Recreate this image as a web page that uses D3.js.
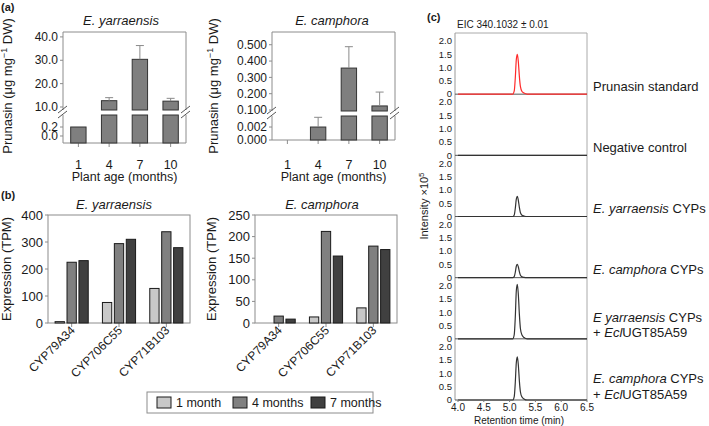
<!DOCTYPE html>
<html><head><meta charset="utf-8">
<script src="https://cdn.jsdelivr.net/npm/d3@7"></script>
<style>
body{margin:0;background:#fff;}
svg{font-family:"Liberation Sans",Arial,sans-serif;}
</style></head><body><svg id="c" width="709" height="426"></svg>
<script>
// ---------- DATA ----------
const ageMonths = ["1", "4", "7", "10"];
const yarraPrunasin = [0.2, 12.7, 30.4, 12.5];
const yarraPrunasinSD = [0, 1.3, 5.9, 1.2];
const camphPrunasin = [0, 0.002, 0.357, 0.125];
const camphPrunasinSD = [0, 0.0015, 0.131, 0.085];
const yarraUpperTicks = [10, 20, 30, 40];
const yarraLowerTicks = [0, 0.2];
const camphUpperTicks = [0.1, 0.2, 0.3, 0.4, 0.5];
const camphLowerTicks = [0, 0.002];

const genes = ["CYP79A34", "CYP706C55", "CYP71B103"];
const ageGroups = ["1 month", "4 months", "7 months"];
const yarraTPM1 = [5, 76, 128];
const yarraTPM4 = [225, 294, 338];
const yarraTPM7 = [231, 310, 279];
const camphTPM1 = [0, 14, 35];
const camphTPM4 = [16, 212, 178];
const camphTPM7 = [9, 155, 170];
const yarraTPMTicks = [0, 100, 200, 300, 400];
const camphTPMTicks = [0, 50, 100, 150, 200, 250];

const rtTimes = [4.0, 5.06, 5.09, 5.11, 5.13, 5.15, 5.17, 5.19, 5.21, 5.24, 5.28, 5.34, 6.5];
const traceStandard = [0, 0, 0.12, 0.6, 1.3, 1.5, 1.2, 0.65, 0.28, 0.1, 0.04, 0, 0];
const traceNegative = [0, 0, 0, 0, 0, 0, 0, 0, 0, 0, 0, 0, 0];
const traceYarra = [0, 0, 0.06, 0.3, 0.65, 0.76, 0.6, 0.33, 0.14, 0.05, 0.02, 0, 0];
const traceCamph = [0, 0, 0.04, 0.2, 0.43, 0.5, 0.4, 0.22, 0.09, 0.03, 0.01, 0, 0];
const traceYarraUGT = [0, 0, 0.16, 0.8, 1.8, 2.05, 1.65, 0.9, 0.38, 0.14, 0.05, 0, 0];
const traceCamphUGT = [0, 0, 0.13, 0.65, 1.4, 1.62, 1.3, 0.7, 0.3, 0.11, 0.04, 0, 0];
const rtTicks = [4.0, 4.5, 5.0, 5.5, 6.0, 6.5];
const intensityTicks = [0, 0.5, 1.0, 1.5, 2.0];

// ---------- DRAW ----------
const svg = d3.select("#c");
const frameCol = "#8c8c8c";
const txtCol = "#1a1a1a";

function panelLabel(t, x, y) {
  svg.append("text").attr("x", x).attr("y", y).attr("font-size", 11).attr("font-weight", "bold")
    .attr("fill", txtCol).text(t);
}
panelLabel("(a)", 1, 11);
panelLabel("(b)", 1, 199);
panelLabel("(c)", 427, 21);

function italicTitle(t, x, y) {
  svg.append("text").attr("x", x).attr("y", y).attr("text-anchor", "middle").attr("font-size", 13)
    .attr("font-style", "italic").attr("fill", txtCol).text(t);
}

function prunasinYTitle(x, y) {
  const t = svg.append("text").attr("transform", `translate(${x},${y}) rotate(-90)`)
    .attr("text-anchor", "middle").attr("font-size", 13).attr("fill", txtCol);
  t.append("tspan").text("Prunasin (\u03bcg mg");
  t.append("tspan").attr("dy", -5).attr("font-size", 9).text("\u22121");
  t.append("tspan").attr("dy", 5).text(" DW)");
}

// broken axis panel (a)
function brokenPanel(o) {
  const g = svg.append("g");
  const x = d3.scaleBand().domain(ageMonths).range([o.x0, o.x1]).paddingInner(0.5).paddingOuter(0.25);
  const up = d3.scaleLinear().domain(o.upDomain).range([o.upBottom, o.top]);
  const lo = d3.scaleLinear().domain(o.loDomain).range([o.bottom, o.loTop]);
  const line = (x1, y1, x2, y2, c, w) => g.append("line").attr("x1", x1).attr("y1", y1).attr("x2", x2).attr("y2", y2)
    .attr("stroke", c || frameCol).attr("stroke-width", w || 1);
  // frame
  line(o.x0, o.top, o.x1, o.top);
  line(o.x0, o.bottom, o.x1, o.bottom);
  [o.x0, o.x1].forEach(xx => { line(xx, o.top, xx, o.upBottom); line(xx, o.loTop, xx, o.bottom); });
  // break marks
  [o.x0, o.x1].forEach(xx => {
    line(xx - 5, o.upBottom + 3, xx + 4, o.upBottom - 4, "#555");
    line(xx - 5, o.loTop + 3, xx + 4, o.loTop - 4, "#555");
  });
  // y ticks
  const tick = (y, label) => {
    line(o.x0 - 3, y, o.x0, y);
    g.append("text").attr("x", o.x0 - 5).attr("y", y).attr("dy", "0.35em").attr("text-anchor", "end")
      .attr("font-size", 12).attr("fill", txtCol).text(label);
  };
  o.upTicks.forEach(v => tick(up(v), d3.format(o.fmt)(v)));
  o.loTicks.forEach(v => tick(lo(v), d3.format(o.fmt)(v)));
  // x ticks + labels
  ageMonths.forEach(m => {
    const cx = x(m) + x.bandwidth() / 2;
    line(cx, o.bottom, cx, o.bottom + 4);
    g.append("text").attr("x", cx).attr("y", 169).attr("text-anchor", "middle").attr("font-size", 12.5)
      .attr("fill", txtCol).text(m);
  });
  // bars
  const loMax = o.loDomain[1];
  ageMonths.forEach((m, i) => {
    const v = o.means[i], sd = o.sds[i];
    const bx = x(m), bw = x.bandwidth();
    if (v <= 0) return;
    const rect = (y1, y2) => g.append("rect").attr("x", bx).attr("y", y1).attr("width", bw).attr("height", y2 - y1)
      .attr("fill", "#7f7f7f").attr("stroke", "#333").attr("stroke-width", 1);
    let yTop;
    if (v <= loMax) { rect(lo(v), o.bottom); yTop = lo(v); }
    else { rect(o.loTop, o.bottom); rect(up(v), o.upBottom); yTop = up(v); }
    if (sd > 0) {
      const ye = v > loMax ? up(v + sd) : lo(v + sd);
      const cx = bx + bw / 2;
      line(cx, yTop, cx, ye, "#8a8a8a");
      line(cx - 4, ye, cx + 4, ye, "#8a8a8a");
    }
  });
  italicTitle(o.title, o.titleX, 25);
  g.append("text").attr("x", (o.x0 + o.x1) / 2).attr("y", 181).attr("text-anchor", "middle")
    .attr("font-size", 12.5).attr("fill", txtCol).text("Plant age (months)");
}

brokenPanel({
  x0: 63, x1: 186, top: 32, bottom: 143, upBottom: 110, loTop: 115,
  upDomain: [8.71, 42.1], loDomain: [-0.156, 0.467],
  upTicks: yarraUpperTicks, loTicks: yarraLowerTicks, fmt: ".1f",
  means: yarraPrunasin, sds: yarraPrunasinSD, title: "E. yarraensis", titleX: 121
});
prunasinYTitle(12, 86);
brokenPanel({
  x0: 272, x1: 395, top: 32, bottom: 140, upBottom: 111, loTop: 116,
  upDomain: [0.094, 0.578], loDomain: [0, 0.0037],
  upTicks: camphUpperTicks, loTicks: camphLowerTicks, fmt: ".3f",
  means: camphPrunasin, sds: camphPrunasinSD, title: "E. camphora", titleX: 332
});
prunasinYTitle(218, 86);

// grouped bars (b)
const ageColors = ["#c8c8c8", "#808080", "#404040"];
function groupedPanel(o) {
  const g = svg.append("g");
  const x = d3.scaleBand().domain(genes).range([o.x0, o.x1]).paddingInner(0.3).paddingOuter(0.15);
  const xs = d3.scaleBand().domain(ageGroups).range([0, x.bandwidth()]).paddingInner(0.22);
  const y = d3.scaleLinear().domain([0, o.max]).range([o.bottom, o.top]);
  const line = (x1, y1, x2, y2, c) => g.append("line").attr("x1", x1).attr("y1", y1).attr("x2", x2).attr("y2", y2)
    .attr("stroke", c || frameCol).attr("stroke-width", 1);
  g.append("rect").attr("x", o.x0).attr("y", o.top).attr("width", o.x1 - o.x0).attr("height", o.bottom - o.top)
    .attr("fill", "none").attr("stroke", frameCol);
  o.ticks.forEach(v => {
    line(o.x0 - 3, y(v), o.x0, y(v));
    g.append("text").attr("x", o.x0 - 5).attr("y", y(v)).attr("dy", "0.35em").attr("text-anchor", "end")
      .attr("font-size", 13).attr("fill", txtCol).text(v);
  });
  genes.forEach((gene, gi) => {
    const cx = x(gene) + x.bandwidth() / 2;
    line(cx, o.bottom, cx, o.bottom + 4);
    g.append("text").attr("transform", `translate(${cx + 4},${o.bottom + 8}) rotate(-45)`)
      .attr("text-anchor", "end").attr("font-size", 12).attr("fill", txtCol).text(gene);
    o.series.forEach((s, si) => {
      const v = s[gi];
      if (v <= 0) return;
      g.append("rect").attr("x", x(gene) + xs(ageGroups[si])).attr("y", y(v)).attr("width", xs.bandwidth())
        .attr("height", o.bottom - y(v)).attr("fill", ageColors[si]).attr("stroke", "#1a1a1a").attr("stroke-width", 1);
    });
  });
  italicTitle(o.title, o.titleX, 209);
  g.append("text").attr("transform", `translate(${o.ytx},269) rotate(-90)`).attr("text-anchor", "middle")
    .attr("font-size", 13).attr("fill", txtCol).text("Expression (TPM)");
}
groupedPanel({ x0: 48, x1: 190, top: 215, bottom: 323, max: 400, ticks: yarraTPMTicks,
  series: [yarraTPM1, yarraTPM4, yarraTPM7], title: "E. yarraensis", titleX: 114, ytx: 11 });
groupedPanel({ x0: 255, x1: 397, top: 215, bottom: 323, max: 250, ticks: camphTPMTicks,
  series: [camphTPM1, camphTPM4, camphTPM7], title: "E. camphora", titleX: 322, ytx: 216 });

// legend
(function () {
  const lg = svg.append("g");
  lg.append("rect").attr("x", 147).attr("y", 392).attr("width", 226).attr("height", 21)
    .attr("fill", "none").attr("stroke", frameCol);
  const xs = [157, 233, 311];
  ageGroups.forEach((a, i) => {
    lg.append("rect").attr("x", xs[i]).attr("y", 397).attr("width", 14).attr("height", 11)
      .attr("fill", ageColors[i]).attr("stroke", "#1a1a1a");
    lg.append("text").attr("x", xs[i] + 19).attr("y", 407).attr("font-size", 12.5).attr("fill", txtCol).text(a);
  });
})();

// chromatograms (c)
(function () {
  const g = svg.append("g");
  const cx0 = 455, cx1 = 587, ctop = 33, cbot = 400;
  const traces = [
    { data: traceStandard, color: "#ff2a2a", lines: [[["Prunasin standard", false]]] },
    { data: traceNegative, color: "#333", lines: [[["Negative control", false]]] },
    { data: traceYarra, color: "#333", lines: [[["E. yarraensis", true], [" CYPs", false]]] },
    { data: traceCamph, color: "#333", lines: [[["E. camphora", true], [" CYPs", false]]] },
    { data: traceYarraUGT, color: "#333", lines: [[["E yarraensis", true], [" CYPs", false]], [["+ ", false], ["Ecl", true], ["UGT85A59", false]]] },
    { data: traceCamphUGT, color: "#333", lines: [[["E. camphora", true], [" CYPs", false]], [["+ ", false], ["Ecl", true], ["UGT85A59", false]]] }
  ];
  const n = traces.length;
  const th = (cbot - ctop) / n;
  const x = d3.scaleLinear().domain([4.0, 6.5]).range([458, cx1]);
  // frame
  g.append("line").attr("x1", cx0).attr("x2", cx1).attr("y1", ctop).attr("y2", ctop).attr("stroke", "#aaa");
  g.append("line").attr("x1", cx1).attr("x2", cx1).attr("y1", ctop).attr("y2", cbot).attr("stroke", "#aaa");
  g.append("line").attr("x1", cx0).attr("x2", cx0).attr("y1", ctop).attr("y2", cbot).attr("stroke", "#999");
  traces.forEach((tr, i) => {
    const base = ctop + (i + 1) * th;
    const y = d3.scaleLinear().domain([0, 2.3]).range([base, base - th]);
    intensityTicks.forEach(v => {
      g.append("text").attr("x", 452).attr("y", y(v)).attr("dy", "0.35em").attr("text-anchor", "end")
        .attr("font-size", 9.5).attr("fill", txtCol).text(v === 0 ? "0" : d3.format(".1f")(v));
    });
    g.append("line").attr("x1", cx0).attr("x2", cx1).attr("y1", base).attr("y2", base)
      .attr("stroke", "#555").attr("stroke-width", 1);
    const ln = d3.line().x((d, k) => x(rtTimes[k])).y(d => y(d)).curve(d3.curveMonotoneX);
    g.append("path").attr("d", ln(tr.data)).attr("fill", "none").attr("stroke", tr.color).attr("stroke-width", 1.2);
    // label
    const baselines = tr.lines.length === 1 ? [base - 3.5] : [base - 17, base - 1.5];
    tr.lines.forEach((parts, li) => {
      const t = g.append("text").attr("x", 593).attr("y", baselines[li]).attr("font-size", 13).attr("fill", txtCol);
      parts.forEach(p => t.append("tspan").attr("font-style", p[1] ? "italic" : "normal").text(p[0]));
    });
  });
  rtTicks.forEach(v => {
    g.append("line").attr("x1", x(v)).attr("x2", x(v)).attr("y1", cbot).attr("y2", cbot + 2).attr("stroke", "#777");
    g.append("text").attr("x", x(v)).attr("y", 411).attr("text-anchor", "middle").attr("font-size", 10)
      .attr("fill", txtCol).text(d3.format(".1f")(v));
  });
  g.append("text").attr("x", 519).attr("y", 424).attr("text-anchor", "middle").attr("font-size", 10)
    .attr("fill", txtCol).text("Retention time (min)");
  g.append("text").attr("x", 457).attr("y", 28).attr("font-size", 10).attr("fill", txtCol)
    .text("EIC 340.1032 \u00b1 0.01");
  const yt = g.append("text").attr("transform", "translate(428,206) rotate(-90)").attr("text-anchor", "middle")
    .attr("font-size", 11).attr("fill", txtCol);
  yt.append("tspan").text("Intensity \u00d710");
  yt.append("tspan").attr("dy", -4).attr("font-size", 8).text("5");
})();
</script></body></html>
